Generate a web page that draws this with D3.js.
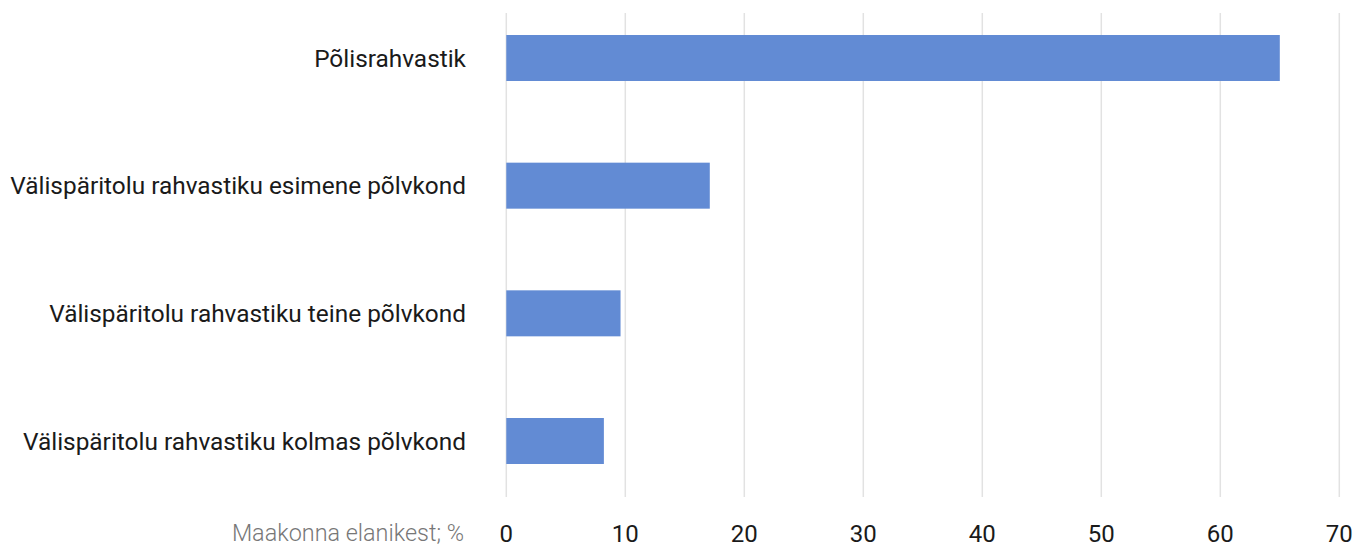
<!DOCTYPE html>
<html><head><meta charset="utf-8">
<script src="https://cdn.jsdelivr.net/npm/d3@7"></script>
<style>body{margin:0;background:#fff}svg{display:block}</style>
</head><body>
<svg id="c" width="1354" height="545"></svg>
<script>
const categories = ["Põlisrahvastik","Välispäritolu rahvastiku esimene põlvkond","Välispäritolu rahvastiku teine põlvkond","Välispäritolu rahvastiku kolmas põlvkond"];
const values = [65.0, 17.1, 9.6, 8.2];
const ticks = [0,10,20,30,40,50,60,70];
const axisTitle = "Maakonna elanikest; %";

const svg = d3.select("#c");
const x = d3.scaleLinear().domain([0,70]).range([506.3,1339.3]);
const y = d3.scalePoint().domain(categories).range([58,441]);
const barH = 46;

svg.append("g").selectAll("line").data(ticks).join("line")
  .attr("x1",d=>x(d)).attr("x2",d=>x(d)).attr("y1",13).attr("y2",497)
  .attr("stroke","#e2e2e2").attr("stroke-width",1.5);

svg.append("g").selectAll("rect").data(values).join("rect")
  .attr("x",x(0)).attr("y",(d,i)=>y(categories[i])-barH/2)
  .attr("width",d=>x(d)-x(0)).attr("height",barH).attr("fill","#628bd4");

svg.append("g").selectAll("text").data(categories).join("text")
  .attr("x",466).attr("y",d=>y(d)).attr("dy","0.35em").attr("text-anchor","end")
  .attr("font-family","Roboto").attr("font-size",24.4).attr("fill","#1a1a1a").text(d=>d);

svg.append("g").selectAll("text").data(ticks).join("text")
  .attr("x",d=>x(d)).attr("y",542).attr("text-anchor","middle")
  .attr("font-family","Roboto").attr("font-size",24).attr("fill","#1a1a1a").text(d=>d);

svg.append("text").attr("x",464).attr("y",541).attr("text-anchor","end")
  .attr("font-family","Roboto").attr("font-weight",300).attr("font-size",23.4).attr("fill","#777").text(axisTitle);
</script>
</body></html>
